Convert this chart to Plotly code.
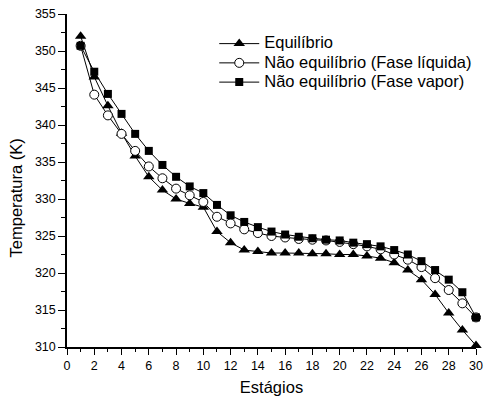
import plotly.graph_objects as go

stages = list(range(1, 31))
equilibrio = [352.0, 346.5, 342.6, 338.9, 335.8, 333.0, 331.2, 330.0, 329.4, 328.9,
              325.6, 324.1, 323.1, 322.9, 322.7, 322.7, 322.7, 322.6, 322.6, 322.5,
              322.5, 322.3, 322.0, 321.4, 320.4, 319.1, 317.1, 314.6, 312.3, 310.2]
liquida = [350.7, 344.1, 341.3, 338.8, 336.5, 334.4, 332.8, 331.4, 330.5, 329.6,
           327.6, 326.7, 325.9, 325.4, 325.0, 324.8, 324.6, 324.5, 324.4, 324.2,
           323.9, 323.6, 323.2, 322.5, 321.8, 320.8, 319.3, 317.7, 315.9, 314.0]
vapor = [350.7, 347.2, 344.2, 341.5, 338.8, 336.5, 334.6, 333.0, 331.7, 330.8,
         329.2, 327.8, 326.9, 326.2, 325.6, 325.2, 324.9, 324.7, 324.5, 324.4,
         324.1, 323.9, 323.6, 323.1, 322.5, 321.6, 320.4, 319.1, 317.4, 314.0]

names = ["Equilíbrio", "Não equilíbrio (Fase líquida)", "Não equilíbrio (Fase vapor)"]
x_title = "Estágios"
y_title = "Temperatura (K)"


def lg(name):
    return '<span style="font-size:16.5px">' + name + '</span>'


fig = go.Figure()
fig.add_trace(go.Scatter(x=stages, y=equilibrio, name=lg(names[0]), mode="lines+markers",
                         line=dict(color="black", width=1),
                         marker=dict(symbol="triangle-up", size=10, color="black"),
                         cliponaxis=False))
fig.add_trace(go.Scatter(x=stages, y=liquida, name=lg(names[1]), mode="lines+markers",
                         line=dict(color="black", width=1),
                         marker=dict(symbol="circle", size=9, color="white",
                                     line=dict(color="black", width=1)),
                         cliponaxis=False))
fig.add_trace(go.Scatter(x=stages, y=vapor, name=lg(names[2]), mode="lines+markers",
                         line=dict(color="black", width=1),
                         marker=dict(symbol="square", size=8, color="black"),
                         cliponaxis=False))

font = "Liberation Sans, Arial, sans-serif"
fig.update_layout(
    width=490, height=404,
    margin=dict(l=67, r=7, t=12, b=57),
    paper_bgcolor="white", plot_bgcolor="white",
    font=dict(family=font, color="black", size=12.5),
    showlegend=True,
    legend=dict(x=0.36, y=0.955, xanchor="left", yanchor="top",
                bgcolor="rgba(0,0,0,0)", font=dict(size=12.5, family=font),
                tracegroupgap=0, itemwidth=40),
    xaxis=dict(range=[0, 30], dtick=2, tick0=0, showgrid=False, zeroline=False,
               showline=True, linecolor="black", linewidth=1.5,
               ticks="outside", ticklen=6, tickcolor="black",
               minor=dict(dtick=1, ticks="outside", ticklen=3.5, tickcolor="black"),
               tickfont=dict(size=12.5),
               title=dict(text=x_title, font=dict(size=16.5), standoff=10)),
    yaxis=dict(range=[310, 355], dtick=5, tick0=310, showgrid=False, zeroline=False,
               showline=True, linecolor="black", linewidth=1.5,
               ticks="outside", ticklen=7, tickcolor="black",
               minor=dict(dtick=2.5, ticks="outside", ticklen=4, tickcolor="black"),
               tickfont=dict(size=12.5)),
    annotations=[dict(text=y_title, textangle=-90, xref="paper", yref="paper",
                      x=-0.124, y=0.447, xanchor="center", yanchor="middle",
                      showarrow=False, font=dict(size=16.5, family=font))],
)

fig.write_html("out.html")
